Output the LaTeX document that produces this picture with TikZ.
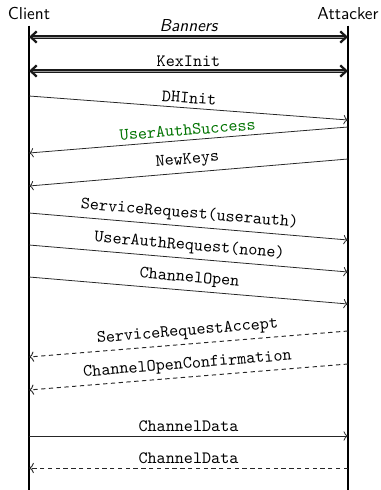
\documentclass[tikz,border=0pt]{standalone}
\usetikzlibrary{arrows.meta}

\begin{document}
\begin{tikzpicture}[
  x=0.578pt, y=-0.578pt,
  party/.style={font=\sffamily, anchor=base, inner sep=3pt},
  lifeline/.style={line width=1.1pt},
  msg/.style={->, >=To, draw=black!85, line width=0.45pt},
  reply/.style={msg, dash pattern=on 2.5pt off 2pt, line width=0.55pt},
  both/.style={{Straight Barb[length=3.5pt,width=6.5pt,line width=1.3pt]}-{Straight Barb[length=3.5pt,width=6.5pt,line width=1.3pt]},
    draw=black!90, double=black!40, double distance=0.55pt, line width=0.65pt},
  lbl/.style={midway, above, sloped, font=\ttfamily, inner sep=2.5pt}
]
\useasboundingbox (0,0) rectangle (380,490);

% the two parties and their lifelines
\node[party] (client) at (29,20) {Client};
\node[party] (attacker) at (348,20) {Attacker};
\coordinate (bottom) at (0,490);
\draw[lifeline] (client.south) -- (client.south |- bottom);
\draw[lifeline] (attacker.south) -- (attacker.south |- bottom);

% message end points (client side / attacker side)
\foreach \m/\cy/\ay in {ban/37/37, kex/71/71, dh/96/120, uas/153/127, nk/186/159,
    sr/213/240, uar/245/272, co/277/304, sra/357/331, coc/390/364, cd/436/436, cdr/468/468}
{
  \coordinate (c-\m) at (29,\cy);
  \coordinate (a-\m) at (348,\ay);
}

% handshake
\draw[both] (c-ban) -- node[lbl, font=\sffamily\slshape] {Banners} (a-ban);
\draw[both] (c-kex) -- node[lbl] {KexInit} (a-kex);
\draw[msg] (c-dh) -- node[lbl] {DHInit} (a-dh);
\draw[msg] (a-uas) -- node[lbl, text=green!45!black] {UserAuthSuccess} (c-uas);
\draw[msg] (a-nk) -- node[lbl] {NewKeys} (c-nk);

% requests
\draw[msg] (c-sr) -- node[lbl] {ServiceRequest(userauth)} (a-sr);
\draw[msg] (c-uar) -- node[lbl] {UserAuthRequest(none)} (a-uar);
\draw[msg] (c-co) -- node[lbl] {ChannelOpen} (a-co);

% answers
\draw[reply] (a-sra) -- node[lbl] {ServiceRequestAccept} (c-sra);
\draw[reply] (a-coc) -- node[lbl] {ChannelOpenConfirmation} (c-coc);

% data
\draw[msg] (c-cd) -- node[lbl] {ChannelData} (a-cd);
\draw[reply] (a-cdr) -- node[lbl] {ChannelData} (c-cdr);

\end{tikzpicture}
\end{document}
